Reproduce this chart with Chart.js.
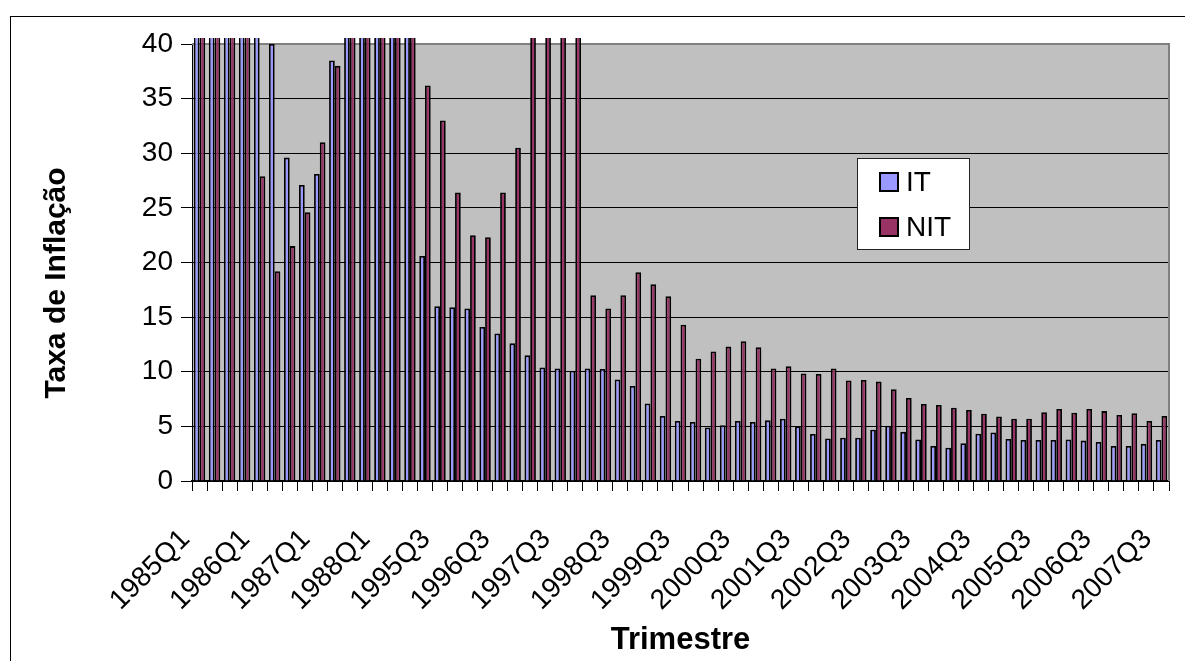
<!DOCTYPE html>
<html>
<head>
<meta charset="utf-8">
<script src="https://cdn.jsdelivr.net/npm/chart.js@4.4.1/dist/chart.umd.min.js"></script>
<style>
  html, body { margin: 0; padding: 0; background: #fff; overflow: hidden; }
  #wrap { position: relative; width: 1185px; height: 661px; }
</style>
</head>
<body>
<div id="wrap"><canvas id="inflacaoChart" width="1185" height="661"></canvas></div>
<script>
// Trimestres (de 1985Q1 a 1988Q4 e de 1995Q3 a 2007Q3)
const trimestres = [
  '1985Q1', '1985Q2', '1985Q3', '1985Q4',
  '1986Q1', '1986Q2', '1986Q3', '1986Q4',
  '1987Q1', '1987Q2', '1987Q3', '1987Q4',
  '1988Q1', '1988Q2', '1988Q3', '1988Q4',
  '1995Q3', '1995Q4',
  '1996Q1', '1996Q2', '1996Q3', '1996Q4',
  '1997Q1', '1997Q2', '1997Q3', '1997Q4',
  '1998Q1', '1998Q2', '1998Q3', '1998Q4',
  '1999Q1', '1999Q2', '1999Q3', '1999Q4',
  '2000Q1', '2000Q2', '2000Q3', '2000Q4',
  '2001Q1', '2001Q2', '2001Q3', '2001Q4',
  '2002Q1', '2002Q2', '2002Q3', '2002Q4',
  '2003Q1', '2003Q2', '2003Q3', '2003Q4',
  '2004Q1', '2004Q2', '2004Q3', '2004Q4',
  '2005Q1', '2005Q2', '2005Q3', '2005Q4',
  '2006Q1', '2006Q2', '2006Q3', '2006Q4',
  '2007Q1', '2007Q2', '2007Q3'
];

// Taxa de inflação dos países IT (valores acima de 40 saem do gráfico: estimados)
const inflacaoIT = [
  62, 75, 88, 70, 55, 40.0, 29.6, 27.1, 28.1, 38.5, 48, 65, 80, 95, 72, 20.6,
  16.0, 15.9, 15.8, 14.1, 13.5, 12.6, 11.5, 10.4, 10.3, 10.1,
  10.3, 10.25, 9.3, 8.7, 7.1, 5.95, 5.5, 5.4, 4.9, 5.1, 5.5, 5.4,
  5.55, 5.7, 5.0, 4.3, 3.9, 3.96, 3.96, 4.7, 5.06, 4.5, 3.8, 3.2,
  3.05, 3.45, 4.33, 4.45, 3.85, 3.75, 3.75, 3.75, 3.8, 3.7, 3.57, 3.2,
  3.2, 3.4, 3.75
];

// Taxa de inflação dos países NIT (valores acima de 40 saem do gráfico: estimados)
const inflacaoNIT = [
  90, 110, 120, 85, 27.9, 19.2, 21.5, 24.6, 31.0, 38.0, 60, 95, 130, 150, 110, 36.2,
  33.0, 26.4, 22.5, 22.3, 26.4, 30.5, 45, 55, 50, 44,
  17.0, 15.8, 17.0, 19.1, 18.0, 16.9, 14.3, 11.2, 11.85, 12.3, 12.8, 12.25,
  10.3, 10.5, 9.85, 9.8, 10.3, 9.2, 9.25, 9.1, 8.4, 7.6, 7.05, 6.95,
  6.7, 6.5, 6.16, 5.9, 5.7, 5.7, 6.3, 6.6, 6.25, 6.6, 6.4, 6.05,
  6.2, 5.5, 5.95
];

const fonte = '"Liberation Sans", Arial, sans-serif';

// Fundo cinza da área do gráfico e moldura externa
const fundoPlugin = {
  id: 'fundo',
  beforeDraw(chart) {
    const { ctx, chartArea: a } = chart;
    ctx.save();
    ctx.strokeStyle = '#000';
    ctx.lineWidth = 1;
    ctx.strokeRect(10.5, 16.5, 1200, 700);
    ctx.fillStyle = '#c0c0c0';
    ctx.fillRect(a.left, a.top, a.right - a.left, a.bottom - a.top);
    ctx.restore();
  },
  beforeDatasetsDraw(chart) {
    const { ctx, chartArea: a } = chart;
    ctx.save();
    ctx.strokeStyle = '#808080';
    ctx.lineWidth = 2;
    ctx.beginPath();
    ctx.moveTo(a.left, a.top);
    ctx.lineTo(a.right, a.top);
    ctx.lineTo(a.right, a.bottom);
    ctx.stroke();
    ctx.restore();
  }
};

// Legenda dentro da área do gráfico e título do eixo Y
const legendaPlugin = {
  id: 'legenda',
  afterDraw(chart) {
    const ctx = chart.ctx;
    ctx.save();
    ctx.fillStyle = '#fff';
    ctx.fillRect(857, 158, 112, 91);
    ctx.strokeStyle = '#222';
    ctx.lineWidth = 1;
    ctx.strokeRect(857.5, 158.5, 112, 91);
    ctx.font = '28px ' + fonte;
    ctx.textBaseline = 'middle';
    chart.data.datasets.forEach(function (ds, i) {
      const y = 172 + i * 45;
      ctx.fillStyle = ds.backgroundColor;
      ctx.fillRect(879, y, 20, 20);
      ctx.strokeStyle = '#000';
      ctx.lineWidth = 2;
      ctx.strokeRect(880, y + 1, 18, 18);
      ctx.fillStyle = '#000';
      ctx.fillText(ds.label, 906, y + 11);
    });
    // título do eixo Y
    ctx.translate(65, 283);
    ctx.rotate(-Math.PI / 2);
    ctx.font = 'bold 30px ' + fonte;
    ctx.textAlign = 'center';
    ctx.textBaseline = 'alphabetic';
    ctx.fillText('Taxa de Inflação', 0, 0);
    ctx.restore();
  }
};

const ctx = document.getElementById('inflacaoChart').getContext('2d');
new Chart(ctx, {
  type: 'bar',
  data: {
    labels: trimestres,
    datasets: [
      {
        label: 'IT',
        data: inflacaoIT,
        backgroundColor: '#9999ff',
        borderColor: '#000',
        borderWidth: 1.8,
        clip: { left: 0, top: 6, right: 0, bottom: 0 }
      },
      {
        label: 'NIT',
        data: inflacaoNIT,
        backgroundColor: '#993366',
        borderColor: '#000',
        borderWidth: 1.8,
        clip: { left: 0, top: 6, right: 0, bottom: 0 }
      }
    ]
  },
  options: {
    responsive: false,
    animation: false,
    devicePixelRatio: 1,
    layout: { padding: { left: 0, right: 16, top: 44, bottom: 0 } },
    categoryPercentage: 0.76,
    barPercentage: 1.0,
    plugins: {
      legend: { display: false },
      tooltip: { enabled: false }
    },
    scales: {
      x: {
        grid: { offset: true, drawOnChartArea: false, tickLength: 10, color: '#000' },
        border: { color: '#000', width: 1.5 },
        ticks: {
          autoSkip: false,
          minRotation: 45,
          maxRotation: 45,
          padding: 32,
          labelOffset: -14,
          color: '#000',
          font: { family: fonte, size: 28 },
          callback: function (val, i) {
            return i % 4 === 0 ? trimestres[i] : '';
          }
        },
        title: {
          display: true,
          text: 'Trimestre',
          color: '#000',
          padding: { top: 0, bottom: 2 },
          font: { family: fonte, size: 31, weight: 'bold' }
        },
        afterFit: function (scale) {
          scale.height = 180;
          scale.paddingLeft = 0;
          scale.paddingRight = 0;
        }
      },
      y: {
        min: 0,
        max: 40,
        ticks: {
          stepSize: 5,
          color: '#000',
          padding: 8,
          font: { family: fonte, size: 28 }
        },
        grid: { color: '#000', lineWidth: 1, tickLength: 11 },
        border: { color: '#000', width: 1 },
        afterFit: function (scale) {
          scale.width = 192;
          scale.paddingTop = 0;
          scale.paddingBottom = 0;
        }
      }
    }
  },
  plugins: [fundoPlugin, legendaPlugin]
});
</script>
</body>
</html>
